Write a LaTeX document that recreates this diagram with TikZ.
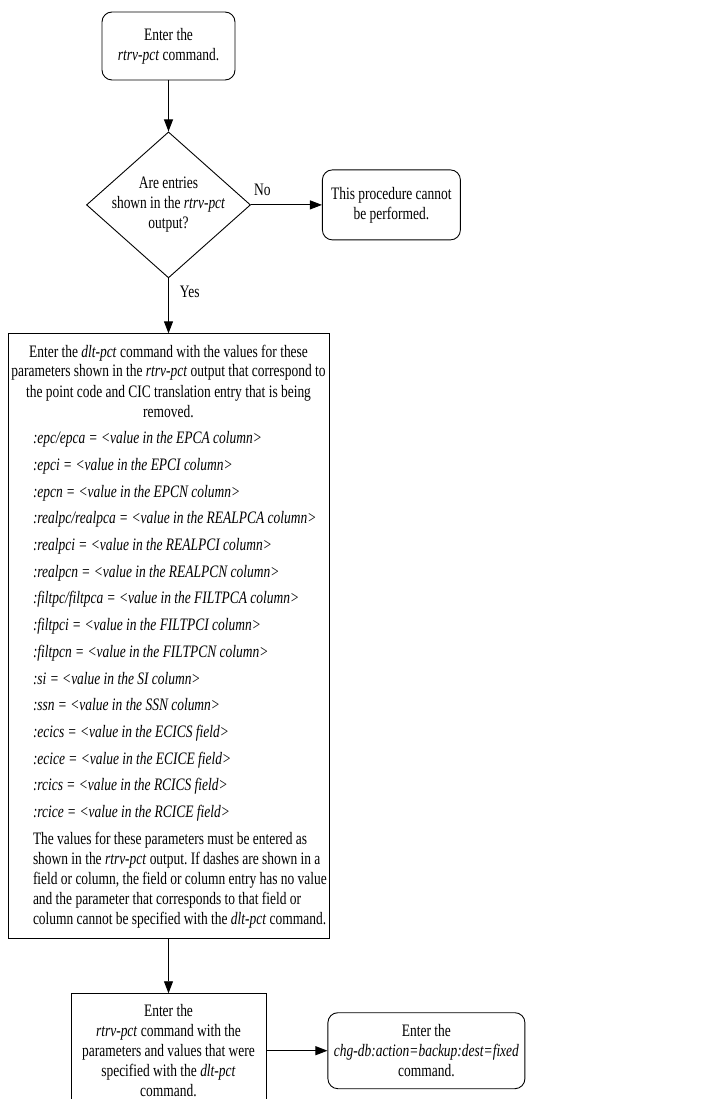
\documentclass[tikz,border=0pt]{standalone}
\usepackage{fontspec}
\setmainfont{Liberation Serif}[FakeStretch=0.77]
\usetikzlibrary{shapes.geometric, arrows.meta, positioning}

\newcommand{\diagfont}{\fontsize{17.5}{20}\selectfont\frenchspacing\spaceskip=3.3pt plus 1pt minus 0.5pt\relax}
\newcommand{\midline}[1]{\makebox[315pt][c]{#1}}
\newcommand{\parline}[1]{\hspace*{22pt}\mbox{#1}}

\begin{document}
\begin{tikzpicture}[x=1pt, y=-1pt, node distance=50pt, font=\diagfont]
        \tikzstyle{startstop} = [rectangle, rounded corners=10pt, minimum width=133pt, minimum height=68pt, text centered, align=center, draw=black, line width=0.9pt]
        \tikzstyle{endbox} = [startstop, minimum width=138pt, minimum height=70pt]
        \tikzstyle{decision} = [diamond, minimum width=164pt, minimum height=146pt, inner sep=-14pt, text centered, align=center, draw=black, line width=0.9pt]
        \tikzstyle{bigbox} = [rectangle, text width=315pt, align=left, inner xsep=3pt, minimum height=605pt, draw=black, line width=0.9pt]
        \tikzstyle{process} = [rectangle, minimum width=195pt, minimum height=114pt, text centered, align=center, draw=black, line width=0.9pt]
        \tikzstyle{arrow} = [line width=0.9pt, -{Triangle[length=12pt, width=9pt]}]
        \tikzstyle{flowlabel} = [inner sep=0pt]

        \useasboundingbox (0,0) rectangle (713,1099);

        \node (start) [startstop] at (168.5,46) {Enter the\\ \textit{rtrv-pct} command.};
        \node (check) [decision, below=51pt of start] {Are entries\\ shown in the \textit{rtrv-pct}\\ output?};
        \node (stop) [endbox, right=71pt of check] {This procedure cannot\\ be performed.};
        \node (dlt) [bigbox, below=55pt of check] {\diagfont
            \midline{Enter the \textit{dlt-pct} command with the values for these}\\
            \midline{parameters shown in the \textit{rtrv-pct} output that correspond to}\\
            \midline{the point code and CIC translation entry that is being}\\
            \midline{removed.}\\[6.7pt]
            \parline{\textit{:epc/epca = <value in the EPCA column>}}\\[6.7pt]
            \parline{\textit{:epci = <value in the EPCI column>}}\\[6.7pt]
            \parline{\textit{:epcn = <value in the EPCN column>}}\\[6.7pt]
            \parline{\textit{:realpc/realpca = <value in the REALPCA column>}}\\[6.7pt]
            \parline{\textit{:realpci = <value in the REALPCI column>}}\\[6.7pt]
            \parline{\textit{:realpcn = <value in the REALPCN column>}}\\[6.7pt]
            \parline{\textit{:filtpc/filtpca = <value in the FILTPCA column>}}\\[6.7pt]
            \parline{\textit{:filtpci = <value in the FILTPCI column>}}\\[6.7pt]
            \parline{\textit{:filtpcn = <value in the FILTPCN column>}}\\[6.7pt]
            \parline{\textit{:si = <value in the SI column>}}\\[6.7pt]
            \parline{\textit{:ssn = <value in the SSN column>}}\\[6.7pt]
            \parline{\textit{:ecics = <value in the ECICS field>}}\\[6.7pt]
            \parline{\textit{:ecice = <value in the ECICE field>}}\\[6.7pt]
            \parline{\textit{:rcics = <value in the RCICS field>}}\\[6.7pt]
            \parline{\textit{:rcice = <value in the RCICE field>}}\\[6.7pt]
            \parline{The values for these parameters must be entered as}\\
            \parline{shown in the \textit{rtrv-pct} output. If dashes are shown in a}\\
            \parline{field or column, the field or column entry has no value}\\
            \parline{and the parameter that corresponds to that field or}\\
            \parline{column cannot be specified with the \textit{dlt-pct} command.}
        };
        \node (rtrv) [process, below=54pt of dlt] {Enter the\\ \textit{rtrv-pct} command with the\\ parameters and values that were\\ specified with the \textit{dlt-pct}\\ command.};
        \node (backup) [startstop, minimum width=197pt, minimum height=76pt, right=61pt of rtrv] {Enter the\\ \textit{chg-db:action=backup:dest=fixed}\\ command.};

        \draw [arrow] (start) -- (check);
        \draw [arrow] (check.east) -- node[flowlabel, pos=0.16, above=9pt] {No} (stop.west);
        \draw [arrow] (check.south) -- node[flowlabel, pos=0.25, right=11pt] {Yes} (dlt.north);
        \draw [arrow] (dlt) -- (rtrv);
        \draw [arrow] (rtrv.east) -- (backup.west);
    \end{tikzpicture}
\end{document}
